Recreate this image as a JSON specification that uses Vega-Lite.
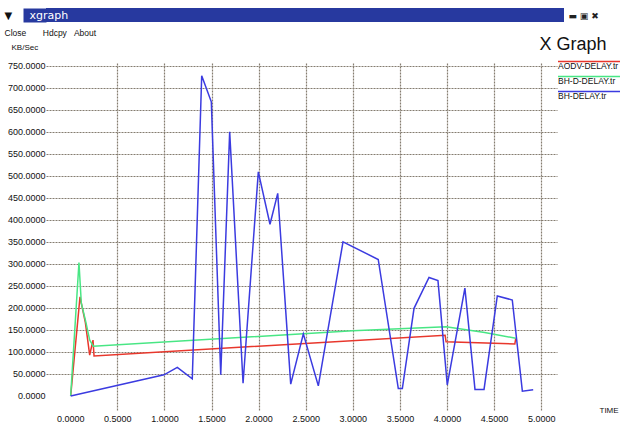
{
  "$schema": "https://vega.github.io/schema/vega-lite/v6.json",
  "padding": {"left": 4, "top": 8, "right": 0, "bottom": 0},
  "background": "white",
  "spacing": 3,
  "align": "none",
  "resolve": {"scale": {"color": "independent"}, "legend": {"color": "independent"}},
  "config": {
    "view": {"stroke": null},
    "font": "Liberation Sans",
    "axis": {
      "labelFont": "Liberation Sans",
      "labelFontSize": 9,
      "labelColor": "#111111",
      "titleFont": "Liberation Sans",
      "titleFontWeight": "normal",
      "titleColor": "#111111",
      "gridColor": "#857d70",
      "gridDash": [2, 1],
      "gridWidth": 1.2,
      "domain": false,
      "ticks": false
    }
  },
  "vconcat": [
    {
      "width": 518,
      "height": 14,
      "view": {"fill": "#27399f", "stroke": null},
      "data": {"values": [{"k": 0}]},
      "layer": [
        {
          "mark": {"type": "point", "opacity": 0},
          "encoding": {
            "y": {"field": "k", "type": "quantitative", "scale": {"domain": [0, 1]}, "axis": {"orient": "left", "values": [0.5], "labels": false, "grid": false, "ticks": true, "tickSize": 23, "tickWidth": 14, "tickColor": "#27399f", "tickCap": "butt", "title": "xgraph", "titleAngle": 0, "titleX": -17, "titleY": 7, "titleAlign": "left", "titleBaseline": "middle", "titleFontSize": 11, "titleFont": "DejaVu Sans", "titleColor": "white"}},
            "x": {"field": "k", "type": "quantitative", "axis": {"orient": "bottom", "title": "▼", "titleX": -42, "titleY": -7, "titleAlign": "left", "titleBaseline": "middle", "titleFontSize": 10, "titleFont": "DejaVu Sans", "titleColor": "#111111", "labels": false, "grid": false}}
          }
        },
        {
          "mark": {"type": "point", "opacity": 0},
          "encoding": {
            "x": {"field": "k", "type": "quantitative", "axis": {"orient": "top", "title": "▬ ▣ ✖", "titleX": 522, "titleY": 7, "titleAlign": "left", "titleBaseline": "middle", "titleFontSize": 9, "titleFont": "DejaVu Sans", "titleColor": "#222222", "labels": false, "grid": false}}
          }
        }
      ],
      "resolve": {"axis": {"x": "independent"}}
    },
    {
      "width": 511,
      "height": 348,
      "data": {"values": [
        {"series": "AODV-DELAY.tr", "t": 0.005, "v": 0},
        {"series": "AODV-DELAY.tr", "t": 0.104, "v": 225},
        {"series": "AODV-DELAY.tr", "t": 0.16, "v": 168},
        {"series": "AODV-DELAY.tr", "t": 0.207, "v": 93},
        {"series": "AODV-DELAY.tr", "t": 0.242, "v": 127},
        {"series": "AODV-DELAY.tr", "t": 0.253, "v": 91},
        {"series": "AODV-DELAY.tr", "t": 3.98, "v": 138},
        {"series": "AODV-DELAY.tr", "t": 3.99, "v": 123},
        {"series": "AODV-DELAY.tr", "t": 4.72, "v": 118},
        {"series": "AODV-DELAY.tr", "t": 4.73, "v": 131},
        {"series": "BH-D-DELAY.tr", "t": 0.005, "v": 0},
        {"series": "BH-D-DELAY.tr", "t": 0.093, "v": 303},
        {"series": "BH-D-DELAY.tr", "t": 0.118, "v": 211},
        {"series": "BH-D-DELAY.tr", "t": 0.165, "v": 169},
        {"series": "BH-D-DELAY.tr", "t": 0.207, "v": 127},
        {"series": "BH-D-DELAY.tr", "t": 0.245, "v": 113},
        {"series": "BH-D-DELAY.tr", "t": 3.0, "v": 148},
        {"series": "BH-D-DELAY.tr", "t": 3.99, "v": 157},
        {"series": "BH-D-DELAY.tr", "t": 4.4, "v": 144},
        {"series": "BH-D-DELAY.tr", "t": 4.73, "v": 131},
        {"series": "BH-DELAY.tr", "t": 0.005, "v": 0},
        {"series": "BH-DELAY.tr", "t": 0.996, "v": 48},
        {"series": "BH-DELAY.tr", "t": 1.137, "v": 65},
        {"series": "BH-DELAY.tr", "t": 1.296, "v": 39},
        {"series": "BH-DELAY.tr", "t": 1.396, "v": 727},
        {"series": "BH-DELAY.tr", "t": 1.498, "v": 668},
        {"series": "BH-DELAY.tr", "t": 1.598, "v": 48},
        {"series": "BH-DELAY.tr", "t": 1.693, "v": 600},
        {"series": "BH-DELAY.tr", "t": 1.835, "v": 29},
        {"series": "BH-DELAY.tr", "t": 1.997, "v": 509},
        {"series": "BH-DELAY.tr", "t": 2.121, "v": 390},
        {"series": "BH-DELAY.tr", "t": 2.203, "v": 460},
        {"series": "BH-DELAY.tr", "t": 2.341, "v": 27},
        {"series": "BH-DELAY.tr", "t": 2.475, "v": 141},
        {"series": "BH-DELAY.tr", "t": 2.634, "v": 23},
        {"series": "BH-DELAY.tr", "t": 2.896, "v": 350},
        {"series": "BH-DELAY.tr", "t": 3.27, "v": 310},
        {"series": "BH-DELAY.tr", "t": 3.483, "v": 17},
        {"series": "BH-DELAY.tr", "t": 3.526, "v": 17},
        {"series": "BH-DELAY.tr", "t": 3.65, "v": 199},
        {"series": "BH-DELAY.tr", "t": 3.809, "v": 269},
        {"series": "BH-DELAY.tr", "t": 3.904, "v": 262},
        {"series": "BH-DELAY.tr", "t": 4.003, "v": 25},
        {"series": "BH-DELAY.tr", "t": 4.19, "v": 245},
        {"series": "BH-DELAY.tr", "t": 4.297, "v": 15},
        {"series": "BH-DELAY.tr", "t": 4.393, "v": 15},
        {"series": "BH-DELAY.tr", "t": 4.534, "v": 227},
        {"series": "BH-DELAY.tr", "t": 4.693, "v": 218},
        {"series": "BH-DELAY.tr", "t": 4.8, "v": 11},
        {"series": "BH-DELAY.tr", "t": 4.915, "v": 14}
      ]},
      "layer": [
        {
          "mark": {"type": "line", "strokeWidth": 1.5, "clip": true},
          "encoding": {
            "x": {
              "field": "t", "type": "quantitative",
              "scale": {"domain": [-0.2569, 5.1677], "nice": false, "zero": false},
              "axis": {
                "orient": "bottom",
                "values": [0, 0.5, 1, 1.5, 2, 2.5, 3, 3.5, 4, 4.5, 5],
                "format": ".4f",
                "labelPadding": 3,
                "labelFlush": false,
                "grid": true,
                "gridOpacity": {"condition": {"test": "datum.value === 0", "value": 0}, "value": 1},
                "title": "TIME",
                "titleX": 553,
                "titleY": -1,
                "titleAlign": "left",
                "titleBaseline": "middle",
                "titleFontSize": 8
              }
            },
            "y": {
              "field": "v", "type": "quantitative",
              "scale": {"domain": [-34.1, 756.1], "nice": false, "zero": false},
              "axis": {
                "orient": "left",
                "values": [0, 50, 100, 150, 200, 250, 300, 350, 400, 450, 500, 550, 600, 650, 700, 750],
                "format": ".4f",
                "labelPadding": 1,
                "labelFlush": false,
                "grid": true,
                "gridOpacity": {"condition": {"test": "datum.value === 0", "value": 0}, "value": 1},
                "title": "KB/Sec",
                "titleAngle": 0,
                "titleX": -35,
                "titleY": -16,
                "titleAlign": "left",
                "titleBaseline": "middle",
                "titleFontSize": 8
              }
            },
            "color": {
              "field": "series", "type": "nominal",
              "scale": {"domain": ["AODV-DELAY.tr", "BH-D-DELAY.tr", "BH-DELAY.tr"], "range": ["#e8372c", "#48e684", "#3b3be0"]},
              "legend": {
                "orient": "none",
                "legendX": 537,
                "legendY": -7.5,
                "title": null,
                "symbolType": "M-6.2,0H6.2",
                "symbolSize": 100,
                "symbolStrokeWidth": 1.5,
                "labelFontSize": 8.5,
                "labelFont": "Liberation Sans",
                "labelColor": "#111111",
                "labelBaseline": "top",
                "labelOffset": -37,
                "rowPadding": -2.5,
                "padding": 0
              }
            }
          }
        },
        {
          "mark": {"type": "line", "opacity": 0},
          "encoding": {
            "x": {
              "field": "t", "type": "quantitative",
              "axis": {"orient": "top", "labels": false, "grid": false, "title": "Close\u00a0\u00a0\u00a0\u00a0\u00a0\u00a0\u00a0Hdcpy\u00a0\u00a0\u00a0About", "titleX": -42, "titleY": -35, "titleAlign": "left", "titleBaseline": "top", "titleFontSize": 8.5}
            },
            "y": {
              "field": "v", "type": "quantitative",
              "axis": {"orient": "right", "labels": false, "grid": false, "title": "X Graph", "titleAngle": 0, "titleX": -18, "titleY": -14, "titleAlign": "left", "titleBaseline": "alphabetic", "titleFontSize": 18}
            },
            "detail": {"field": "series"}
          }
        }
      ],
      "resolve": {"axis": {"x": "independent", "y": "independent"}}
    }
  ]
}
